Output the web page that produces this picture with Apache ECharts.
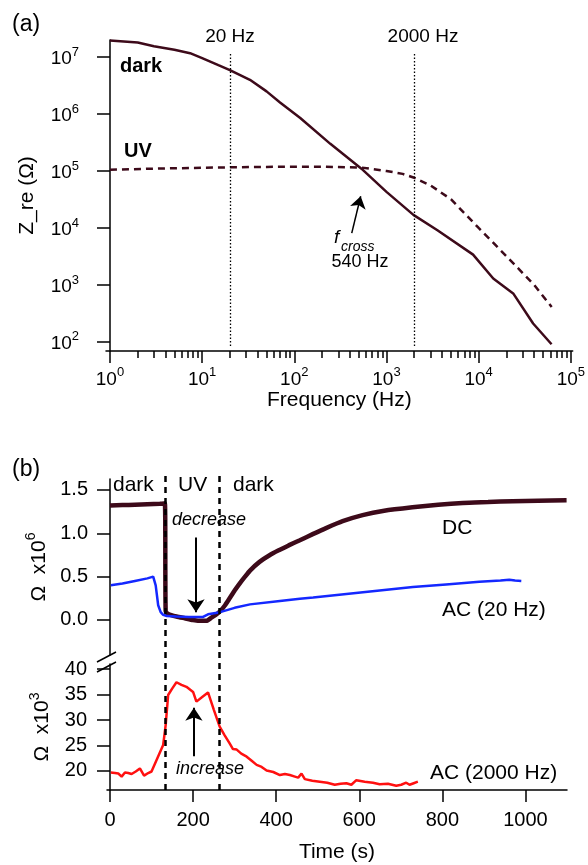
<!DOCTYPE html>
<html>
<head>
<meta charset="utf-8">
<script src="https://cdn.jsdelivr.net/npm/echarts@6/dist/echarts.min.js"></script>
<style>
html,body{margin:0;padding:0;background:#fff}
#main{width:588px;height:865px}
</style>
</head>
<body>
<div id="main"></div>
<script>
// (a) impedance spectra, Hz vs Ohm
const freqDark = [1, 2, 3, 5, 7.4, 10, 15, 20, 33, 50, 70, 116, 246, 535, 1000, 1960, 3570, 8700, 14400, 23700, 39000, 61800]
const zDark = [1.95e7, 1.8e7, 1.55e7, 1.35e7, 1.17e7, 9.6e6, 7.2e6, 5.9e6, 4.0e6, 2.5e6, 1.6e6, 8.5e5, 3.0e5, 1.1e5, 4.3e4, 1.7e4, 9.1e3, 3.4e3, 1.3e3, 7.1e2, 2.1e2, 9.1e1]
const freqUV = [1, 3, 10, 20, 50, 100, 200, 535, 1000, 1500, 2000, 3000, 5000, 10000, 20000, 40000, 62000]
const zUV = [1.05e5, 1.1e5, 1.14e5, 1.16e5, 1.18e5, 1.19e5, 1.19e5, 1.15e5, 1.0e5, 8.9e4, 7.6e4, 5.6e4, 3.2e4, 1.0e4, 3.2e3, 1.0e3, 4.1e2]
const markerFreqs = [20, 2000]
const markerSpan = [85, 1.23e7]          // Ohm range of the dotted lines
const crossArrow = [[420, 8.1e3], [525, 3.6e4]]  // [Hz, Ohm] tail -> tip

// (b) time traces
const timeDC = [0, 30, 60, 90, 120, 132, 134, 140, 160, 180, 200, 220, 232, 245, 255, 265, 277, 288, 300, 312, 325, 337, 360, 385, 409, 430, 457, 488, 520, 560, 608, 660, 728, 790, 849, 910, 969, 1030, 1099]
const dcVals = [1.32, 1.325, 1.33, 1.335, 1.34, 1.345, 0.1, 0.07, 0.04, 0.02, 0.0, -0.01, -0.01, 0.03, 0.06, 0.1, 0.17, 0.25, 0.34, 0.42, 0.5, 0.57, 0.67, 0.75, 0.81, 0.86, 0.92, 0.99, 1.06, 1.14, 1.21, 1.26, 1.3, 1.33, 1.35, 1.36, 1.37, 1.375, 1.38]
const timeAC20 = [2, 30, 60, 90, 104, 110, 116, 122, 128, 137, 160, 190, 224, 236, 265, 300, 337, 409, 457, 489, 569, 649, 729, 809, 889, 940, 961, 975, 990]
const ac20Vals = [0.4, 0.42, 0.45, 0.48, 0.5, 0.4, 0.17, 0.09, 0.06, 0.045, 0.04, 0.035, 0.035, 0.065, 0.09, 0.14, 0.18, 0.22, 0.245, 0.26, 0.3, 0.34, 0.38, 0.41, 0.44, 0.455, 0.465, 0.455, 0.45]
const timeAC2000 = [2, 12, 20, 28, 36, 44, 52, 62, 72, 82, 92, 100, 114, 128, 134, 140, 150, 160, 172, 184, 200, 208, 222, 236, 250, 264, 276, 288, 296, 305, 316, 329, 341, 353, 365, 377, 393, 409, 421, 433, 445, 453, 461, 469, 487, 505, 523, 541, 555, 569, 581, 593, 613, 633, 649, 669, 689, 701, 713, 721, 731, 741]
const ac2000Vals = [19.7, 19.6, 19.5, 18.9, 19.7, 19.6, 19.4, 19.9, 20.5, 19.1, 19.6, 19.9, 22.5, 25.1, 29, 34.9, 36.2, 37.4, 36.9, 36.5, 35.5, 33.6, 34.5, 35.4, 32, 28.7, 27, 25.4, 24.3, 24.2, 23.4, 22.8, 22, 21.2, 20.8, 20.1, 19.8, 19.2, 19.4, 19.2, 18.9, 18.7, 19.5, 18.4, 18.1, 17.9, 17.7, 17.3, 17.5, 17.6, 17.3, 18.2, 17.9, 17.7, 17.4, 17.5, 17.1, 17.3, 17.7, 17.3, 17.6, 17.9]
const uvOn = 133, uvOff = 263
const decreaseArrow = [[207, 0.95], [207, 0.09]]
const increaseArrow = [[202, 22.9], [202, 32.4]]

// ticks
const decades = [0, 1, 2, 3, 4, 5]
const zDecades = [2, 3, 4, 5, 6, 7]
const minorFreq = []
decades.slice(0, 5).forEach(d => { for (let m = 2; m <= 9; m++) minorFreq.push(d + Math.log10(m)) })
const timeTicks = [0, 200, 400, 600, 800, 1000]
const ohm6Ticks = [0, 0.5, 1.0, 1.5]
const ohm3Ticks = [20, 25, 30, 35, 40]

const FONT = "'Liberation Sans', Arial, sans-serif"
const MAROON = '#3d0a1a'
const lg = v => Math.log10(v)
const zip = (a, b) => a.map((x, i) => [x, b[i]])
const logPairs = (f, z) => f.map((x, i) => [lg(x), lg(z[i])])

const chart = echarts.init(document.getElementById('main'))

const axisBase = {
  splitLine: {show: false},
  axisLine: {lineStyle: {color: '#000', width: 1.5}},
  axisTick: {lineStyle: {color: '#000', width: 1.5}},
}
const powLabel = v => '{b|10}{s|' + v + '}'
const powRich = {
  b: {fontSize: 19, fontFamily: FONT, color: '#000', verticalAlign: 'bottom'},
  s: {fontSize: 13, fontFamily: FONT, color: '#000', verticalAlign: 'bottom', padding: [0, 0, 10, 0]}
}

const option = {
  animation: false,
  grid: [
    {left: 106, right: 15, top: 40, bottom: 514},
    {left: 107, right: 21, top: 479, bottom: 210},
    {left: 107, right: 21, top: 664, bottom: 75},
    {left: 107, right: 21, top: 476, bottom: 75}
  ],
  xAxis: [
    {...axisBase, type: 'value', gridIndex: 0, position: 'bottom', min: -0.043, max: 5.02,
      name: 'Frequency (Hz)', nameLocation: 'middle', nameGap: 34,
      nameTextStyle: {fontSize: 21, fontFamily: FONT, color: '#000'},
      axisTick: {...axisBase.axisTick, length: 12, customValues: decades},
      axisLabel: {customValues: decades, margin: 15, formatter: powLabel, rich: powRich}},
    {type: 'value', gridIndex: 0, position: 'bottom', min: -0.043, max: 5.02, splitLine: {show: false},
      axisLine: {show: false}, axisLabel: {show: false},
      axisTick: {length: 7, customValues: minorFreq, lineStyle: {color: '#000', width: 1.5}}},
    {type: 'value', gridIndex: 1, min: -7.2, max: 1100, show: false},
    {...axisBase, type: 'value', gridIndex: 2, position: 'bottom', min: -7.2, max: 1100,
      name: 'Time (s)', nameLocation: 'middle', nameGap: 52,
      nameTextStyle: {fontSize: 21, fontFamily: FONT, color: '#000'},
      axisTick: {...axisBase.axisTick, length: 12, customValues: timeTicks},
      axisLabel: {customValues: timeTicks, margin: 20, fontSize: 20, fontFamily: FONT, color: '#000',
        formatter: v => String(v)}},
    {type: 'value', gridIndex: 3, min: -7.2, max: 1100, show: false}
  ],
  yAxis: [
    {...axisBase, type: 'value', gridIndex: 0, min: 1.84, max: 7.30,
      name: 'Z_re (Ω)', nameLocation: 'middle', nameGap: 68,
      nameTextStyle: {fontSize: 21, fontFamily: FONT, color: '#000'},
      axisTick: {...axisBase.axisTick, length: 13, customValues: zDecades},
      axisLabel: {customValues: zDecades, margin: 27, formatter: powLabel, rich: powRich}},
    {...axisBase, type: 'value', gridIndex: 1, min: -0.404, max: 1.626,
      name: '{t|Ω  x10}{s|6}', nameLocation: 'middle', nameGap: 54,
      nameTextStyle: {rich: {
        t: {fontSize: 21, fontFamily: FONT, color: '#000', verticalAlign: 'bottom'},
        s: {fontSize: 14, fontFamily: FONT, color: '#000', verticalAlign: 'bottom', padding: [0, 0, 11, 0]}}},
      axisTick: {...axisBase.axisTick, length: 13, customValues: ohm6Ticks},
      axisLabel: {customValues: ohm6Ticks, margin: 19, fontSize: 20, fontFamily: FONT, color: '#000',
        formatter: v => v.toFixed(1)}},
    {...axisBase, type: 'value', gridIndex: 2, min: 16.27, max: 40.98,
      name: '{t|Ω  x10}{s|3}', nameLocation: 'middle', nameGap: 54,
      nameTextStyle: {rich: {
        t: {fontSize: 21, fontFamily: FONT, color: '#000', verticalAlign: 'bottom'},
        s: {fontSize: 14, fontFamily: FONT, color: '#000', verticalAlign: 'bottom', padding: [0, 0, 11, 0]}}},
      axisTick: {...axisBase.axisTick, length: 13, customValues: ohm3Ticks},
      axisLabel: {customValues: ohm3Ticks, margin: 20, fontSize: 20, fontFamily: FONT, color: '#000'}},
    {type: 'value', gridIndex: 3, min: 0, max: 1, show: false}
  ],
  series: [
    {name: 'dark', type: 'line', xAxisIndex: 0, yAxisIndex: 0, showSymbol: false, silent: true,
      data: logPairs(freqDark, zDark), lineStyle: {color: MAROON, width: 2.5}},
    {name: 'UV', type: 'line', xAxisIndex: 0, yAxisIndex: 0, showSymbol: false, silent: true,
      data: logPairs(freqUV, zUV), lineStyle: {color: MAROON, width: 2.5, type: [7, 5]}},
    {name: 'marks a', type: 'line', xAxisIndex: 0, yAxisIndex: 0, data: [], silent: true,
      markLine: {silent: true, symbol: 'none', label: {show: false},
        data: markerFreqs.map(f => [
          {coord: [lg(f), lg(markerSpan[0])], lineStyle: {color: '#000', width: 1.3, type: [1.5, 2]}},
          {coord: [lg(f), lg(markerSpan[1])]}
        ]).concat([[
          {coord: [lg(crossArrow[0][0]), lg(crossArrow[0][1])], symbol: 'none',
            lineStyle: {color: '#000', width: 1.5, type: 'solid'}},
          {coord: [lg(crossArrow[1][0]), lg(crossArrow[1][1])], symbol: 'arrow', symbolSize: 12}
        ]])}},
    {name: 'DC', type: 'line', xAxisIndex: 2, yAxisIndex: 1, showSymbol: false, silent: true, smooth: 0.2,
      data: zip(timeDC, dcVals), lineStyle: {color: MAROON, width: 4.5}},
    {name: 'AC (20 Hz)', type: 'line', xAxisIndex: 2, yAxisIndex: 1, showSymbol: false, silent: true,
      data: zip(timeAC20, ac20Vals), lineStyle: {color: '#1428ff', width: 2.5}},
    {name: 'decrease', type: 'line', xAxisIndex: 2, yAxisIndex: 1, data: [], silent: true,
      markLine: {silent: true, label: {show: false}, symbol: ['none', 'arrow'], symbolSize: 13,
        lineStyle: {color: '#000', width: 2, type: 'solid'},
        data: [[{coord: decreaseArrow[0]}, {coord: decreaseArrow[1]}]]}},
    {name: 'AC (2000 Hz)', type: 'line', xAxisIndex: 3, yAxisIndex: 2, showSymbol: false, silent: true,
      data: zip(timeAC2000, ac2000Vals), lineStyle: {color: '#ff1010', width: 2.5}},
    {name: 'increase', type: 'line', xAxisIndex: 3, yAxisIndex: 2, data: [], silent: true,
      markLine: {silent: true, label: {show: false}, symbol: ['none', 'arrow'], symbolSize: 13,
        lineStyle: {color: '#000', width: 2, type: 'solid'},
        data: [[{coord: increaseArrow[0]}, {coord: increaseArrow[1]}]]}},
    {name: 'uv window', type: 'line', xAxisIndex: 4, yAxisIndex: 3, data: [], silent: true,
      markLine: {silent: true, label: {show: false}, symbol: 'none',
        lineStyle: {color: '#000', width: 2.5, type: [6, 5]},
        data: [{xAxis: uvOn}, {xAxis: uvOff}]}}
  ],
  graphic: [
    {type: 'text', x: 12, y: 25, style: {text: '(a)', font: '23px ' + FONT, fill: '#000', textVerticalAlign: 'middle'}},
    {type: 'text', x: 120, y: 66, style: {text: 'dark', font: 'bold 20px ' + FONT, fill: '#000', textVerticalAlign: 'middle'}},
    {type: 'text', x: 124, y: 151, style: {text: 'UV', font: 'bold 20px ' + FONT, fill: '#000', textVerticalAlign: 'middle'}},
    {type: 'text', x: 230, y: 37, style: {text: '20 Hz', font: '19px ' + FONT, fill: '#000', textAlign: 'center', textVerticalAlign: 'middle'}},
    {type: 'text', x: 423, y: 37, style: {text: '2000 Hz', font: '19px ' + FONT, fill: '#000', textAlign: 'center', textVerticalAlign: 'middle'}},
    {type: 'text', x: 334, y: 238, style: {text: 'f', font: 'italic 19px ' + FONT, fill: '#000', textVerticalAlign: 'middle'}},
    {type: 'text', x: 341, y: 247, style: {text: 'cross', font: 'italic 14px ' + FONT, fill: '#000', textVerticalAlign: 'middle'}},
    {type: 'text', x: 360, y: 262, style: {text: '540 Hz', font: '18px ' + FONT, fill: '#000', textAlign: 'center', textVerticalAlign: 'middle'}},

    {type: 'text', x: 12, y: 470, style: {text: '(b)', font: '23px ' + FONT, fill: '#000', textVerticalAlign: 'middle'}},
    {type: 'text', x: 113, y: 485, style: {text: 'dark', font: '21px ' + FONT, fill: '#000', textVerticalAlign: 'middle'}},
    {type: 'text', x: 178, y: 485, style: {text: 'UV', font: '21px ' + FONT, fill: '#000', textVerticalAlign: 'middle'}},
    {type: 'text', x: 233, y: 485, style: {text: 'dark', font: '21px ' + FONT, fill: '#000', textVerticalAlign: 'middle'}},
    {type: 'text', x: 172, y: 520, style: {text: 'decrease', font: 'italic 18px ' + FONT, fill: '#000', textVerticalAlign: 'middle'}},
    {type: 'text', x: 442, y: 528, style: {text: 'DC', font: '21px ' + FONT, fill: '#000', textVerticalAlign: 'middle'}},
    {type: 'text', x: 442, y: 610, style: {text: 'AC (20 Hz)', font: '21px ' + FONT, fill: '#000', textVerticalAlign: 'middle'}},
    {type: 'text', x: 176, y: 769, style: {text: 'increase', font: 'italic 18px ' + FONT, fill: '#000', textVerticalAlign: 'middle'}},
    {type: 'text', x: 430, y: 773, style: {text: 'AC (2000 Hz)', font: '21px ' + FONT, fill: '#000', textVerticalAlign: 'middle'}},
    // axis break marks
    {type: 'line', shape: {x1: 97, y1: 662, x2: 116, y2: 652}, style: {stroke: '#000', lineWidth: 1.5}},
    {type: 'line', shape: {x1: 97, y1: 672, x2: 116, y2: 662}, style: {stroke: '#000', lineWidth: 1.5}}
  ]
}
chart.setOption(option)
</script>
</body>
</html>
